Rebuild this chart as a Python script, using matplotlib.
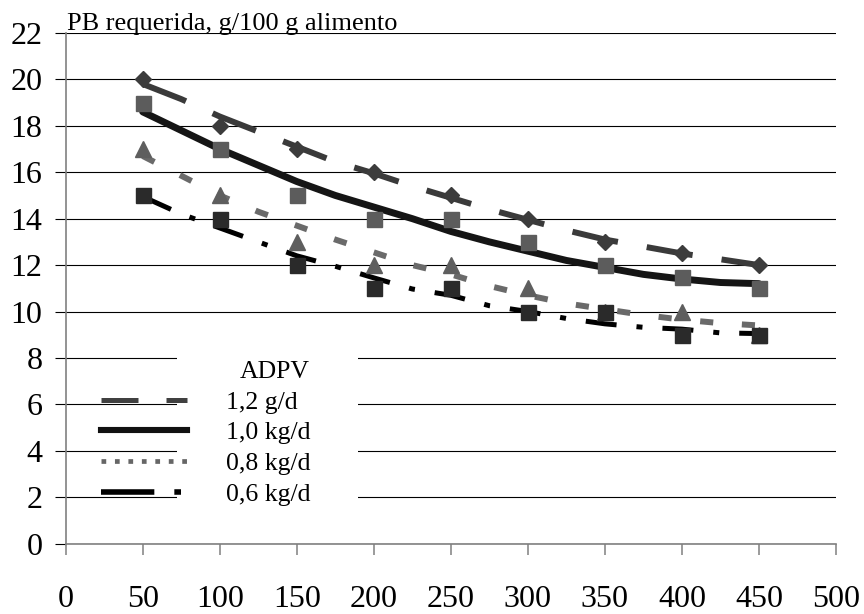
import numpy as np
import matplotlib
matplotlib.use('Agg')
import matplotlib.pyplot as plt
from matplotlib.lines import Line2D
from matplotlib.patches import Rectangle

plt.rcParams['font.family'] = ['Liberation Serif', 'DejaVu Serif']

# peso vivo (kg)
pesos = [50, 100, 150, 200, 250, 300, 350, 400, 450]
# puntos observados
pb_12 = [20, 18, 17, 16, 15, 14, 13, 12.5, 12]
pb_10 = [19, 17, 15, 14, 14, 13, 12, 11.5, 11]
pb_08 = [17, 15, 13, 12, 12, 11, 10, 10, 9]
pb_06 = [15, 14, 12, 11, 11, 10, 10, 9, 9]

# curvas ajustadas
x_fit = [50, 75, 100, 125, 150, 175, 200, 225, 250, 275, 300, 325, 350, 375, 400, 425, 450]
fit_12 = [19.8, 19.15, 18.4, 17.75, 17.1, 16.45, 15.95, 15.4, 14.9, 14.4, 13.95, 13.5, 13.1, 12.8, 12.5, 12.25, 12.0]
fit_10 = [18.6, 17.8, 17.0, 16.3, 15.6, 15.0, 14.5, 14.0, 13.45, 13.0, 12.6, 12.2, 11.9, 11.6, 11.4, 11.25, 11.2]
fit_08 = [16.7, 15.85, 15.0, 14.3, 13.7, 13.1, 12.55, 12.0, 11.6, 11.1, 10.7, 10.35, 10.1, 9.85, 9.65, 9.5, 9.4]
fit_06 = [14.95, 14.2, 13.6, 13.0, 12.4, 11.95, 11.45, 10.97, 10.7, 10.25, 10.0, 9.7, 9.47, 9.32, 9.24, 9.08, 9.05]

etiquetas = ['1,2 g/d', '1,0 kg/d', '0,8 kg/d', '0,6 kg/d']

fig = plt.figure(figsize=(8.64, 6.14), dpi=100)
ax = fig.add_axes([0.076, 0.1145, 0.8916, 0.8319])

ax.plot(x_fit, fit_12, color='#3a3a3a', lw=4.3, dashes=(7.8, 4.9), solid_capstyle='butt', zorder=2)
ax.plot(x_fit, fit_10, color='#151515', lw=5, solid_capstyle='round', zorder=2)
ax.plot(x_fit, fit_08, color='#6a6a6a', lw=4.3, dashes=(2.2, 4.8), zorder=2)
ax.plot(x_fit, fit_06, color='black', lw=3.6, dashes=(6.2, 4, 1.2, 4), zorder=2)

ax.plot(pesos, pb_12, ls='none', marker='D', ms=8.5, color='#3c3c3c', zorder=3)
ax.plot(pesos, pb_10, ls='none', marker='s', ms=10.8, color='#5c5c5c', zorder=3)
ax.plot(pesos, pb_08, ls='none', marker='^', ms=11, color='#5e5e5e', zorder=3)
ax.plot(pesos, pb_06, ls='none', marker='s', ms=10.8, color='#2a2a2a', zorder=3)

ax.set_xlim(0, 500)
ax.set_ylim(0, 22)
ax.set_xticks(np.arange(0, 501, 50))
ax.set_yticks(np.arange(0, 23, 2))
ax.grid(axis='y', color='black', lw=0.8)
ax.set_axisbelow(True)
for s in ['top', 'right']:
    ax.spines[s].set_visible(False)
for s in ['left', 'bottom']:
    ax.spines[s].set_color('#808080')
    ax.spines[s].set_linewidth(1.2)
ax.tick_params(axis='x', direction='out', length=7.7, width=1.1, color='#808080',
               pad=22, labelsize=23)
ax.tick_params(axis='y', direction='out', length=7.7, width=0.8, color='black',
               pad=9, labelsize=23)

ax.text(0.002, 1.006, 'PB requerida, g/100 g alimento', transform=ax.transAxes,
        fontsize=19, va='baseline', ha='left')

# fondo blanco de la leyenda
ax.add_patch(Rectangle((0.1445, 0.076), 0.235, 0.303, transform=ax.transAxes,
                       facecolor='white', edgecolor='none', zorder=1))

handles = [
    Line2D([], [], color='#404040', lw=3.6, dashes=(7.4, 5.6)),
    Line2D([], [], color='#111111', lw=4.4),
    Line2D([], [], color='#666666', lw=3.4, dashes=(1, 1.85)),
    Line2D([], [], color='black', lw=4, dashes=(9.6, 3.6, 1.2, 3.6)),
]
leg = ax.legend(handles, etiquetas, title='ADPV', loc='upper left',
                bbox_to_anchor=(0.0458, 0.358), borderaxespad=0, borderpad=0,
                frameon=False, fontsize=18.5, title_fontsize=18.5,
                handlelength=3.35, handletextpad=1.5, labelspacing=0.3,
                alignment='right')

fig.savefig('out.png', dpi=100)
